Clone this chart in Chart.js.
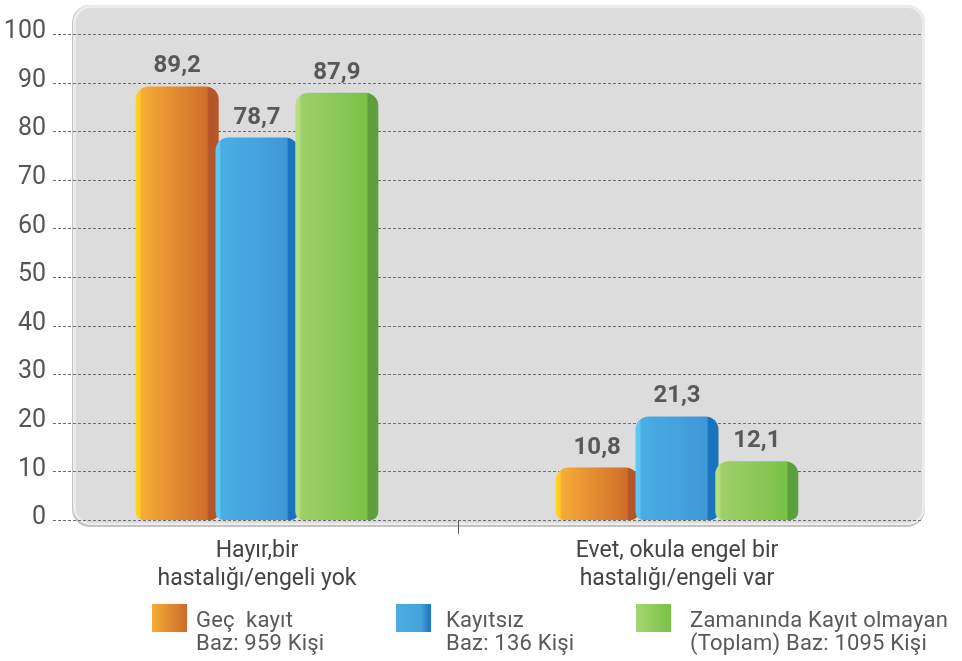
<!DOCTYPE html>
<html><head><meta charset="utf-8">
<script src="https://cdn.jsdelivr.net/npm/chart.js@4/dist/chart.umd.min.js"></script>
<style>
html,body{margin:0;padding:0;background:#fff;}
#wrap{position:relative;width:962px;height:661px;overflow:hidden;}
canvas{position:absolute;left:0;top:0;}
.sw{position:absolute;width:35px;height:28px;top:604px;}
.lt{position:absolute;top:608px;font-family:Roboto,"Liberation Sans",sans-serif;font-size:22px;line-height:23px;letter-spacing:0.2px;color:#595959;white-space:pre;}
</style></head><body>
<div id="wrap"><canvas id="c" width="962" height="661"></canvas>
<div class="sw" style="left:152px;background:linear-gradient(90deg,#f5ad32,#cc6a2c);"></div>
<div class="lt" id="l0" style="left:196px;"></div>
<div class="sw" style="left:396px;background:linear-gradient(90deg,#4aaee3 0%,#45a4dd 70%,#1c72bc 100%);"></div>
<div class="lt" id="l1" style="left:446px;"></div>
<div class="sw" style="left:636px;background:linear-gradient(90deg,#a6d672,#78c145);"></div>
<div class="lt" id="l2" style="left:690px;"></div>
</div>
<script>
const categories = [['Hayır,bir', 'hastalığı/engeli yok'], ['Evet, okula engel bir', 'hastalığı/engeli var']];
const seriesNames = ['Geç  kayıt', 'Kayıtsız', 'Zamanında Kayıt olmayan'];
const seriesBases = ['Baz: 959 Kişi', 'Baz: 136 Kişi', '(Toplam) Baz: 1095 Kişi'];
const gecKayit = [89.2, 10.8];
const kayitsiz = [78.7, 21.3];
const zamanindaKayitOlmayan = [87.9, 12.1];
const yTickValues = [0, 10, 20, 30, 40, 50, 60, 70, 80, 90, 100];

const FONT = 'Roboto, "Liberation Sans", sans-serif';

for (let i = 0; i < 3; i++) {
  document.getElementById('l' + i).textContent = seriesNames[i] + '\n' + seriesBases[i];
}

const gradStops = [
  [[0, '#ffd21f'], [0.05, '#ffcc22'], [0.07, '#f5ac38'], [0.86, '#d06d2b'], [0.88, '#b5552a'], [1, '#b5552a']],
  [[0, '#5fcbf5'], [0.05, '#5cc6f2'], [0.07, '#4aaee3'], [0.86, '#3f98d6'], [0.88, '#1a73bd'], [1, '#1a73bd']],
  [[0, '#b8df85'], [0.05, '#b3dc7e'], [0.07, '#9fd06a'], [0.86, '#7bc146'], [0.88, '#5ba03c'], [1, '#5ba03c']]
];

const panelPlugin = {
  id: 'panel',
  beforeDraw(chart) {
    const {ctx, chartArea: a} = chart;
    const l = a.left + 26, r = a.right + 38, t = 5, b = a.bottom + 5;
    ctx.save();
    ctx.beginPath();
    ctx.roundRect(l - 1, t, r - l + 1, b - t + 2, 18);
    ctx.fillStyle = '#c4c4c4';
    ctx.fill();
    ctx.beginPath();
    ctx.roundRect(l, t, r - l, b - t, 18);
    ctx.fillStyle = '#ececec';
    ctx.fill();
    ctx.beginPath();
    ctx.roundRect(l + 3, t + 3, r - l - 6, b - t - 5, 15);
    ctx.fillStyle = '#dcdcdc';
    ctx.fill();
    ctx.restore();
  },
  beforeDatasetsDraw(chart) {
    const {ctx, chartArea: a, scales} = chart;
    ctx.save();
    ctx.strokeStyle = '#6e6e6e';
    ctx.lineWidth = 1;
    ctx.setLineDash([3, 2]);
    yTickValues.forEach(v => {
      const y = Math.round(scales.y.getPixelForValue(v)) + 0.5;
      ctx.beginPath();
      ctx.moveTo(a.left + 6, y);
      ctx.lineTo(a.right + 35, y);
      ctx.stroke();
    });
    ctx.setLineDash([]);
    const mx = Math.round((scales.x.getPixelForValue(0) + scales.x.getPixelForValue(1)) / 2) - 8.5;
    ctx.strokeStyle = '#555';
    ctx.beginPath();
    ctx.moveTo(mx, a.bottom + 1);
    ctx.lineTo(mx, a.bottom + 14);
    ctx.stroke();
    ctx.restore();
    // draw datasets in forward order so later series overlap earlier ones
    for (let i = 0; i < chart.data.datasets.length; i++) {
      const meta = chart.getDatasetMeta(i);
      meta.data.forEach(el => {
        const g = ctx.createLinearGradient(el.x - el.width / 2, 0, el.x + el.width / 2, 0);
        gradStops[i].forEach(s => g.addColorStop(s[0], s[1]));
        el.options = Object.assign({}, el.options, {backgroundColor: g});
      });
      meta.controller.draw();
    }
    return false;
  },
  afterDraw(chart) {
    const {ctx} = chart;
    ctx.save();
    ctx.font = 'bold 24px ' + FONT;
    ctx.fillStyle = '#585858';
    ctx.textAlign = 'center';
    ctx.textBaseline = 'bottom';
    chart.data.datasets.forEach((ds, i) => {
      chart.getDatasetMeta(i).data.forEach((el, j) => {
        ctx.fillText(String(ds.data[j]).replace('.', ','), el.x, el.y - 8);
      });
    });
    ctx.restore();
  }
};

const rad = {topLeft: 13, topRight: 13, bottomLeft: 8, bottomRight: 8};
new Chart(document.getElementById('c'), {
  type: 'bar',
  data: {
    labels: categories,
    datasets: [
      {label: seriesNames[0], data: gecKayit, backgroundColor: '#e08a30'},
      {label: seriesNames[1], data: kayitsiz, backgroundColor: '#45a4dd'},
      {label: seriesNames[2], data: zamanindaKayitOlmayan, backgroundColor: '#8cc955'}
    ]
  },
  options: {
    responsive: false,
    animation: false,
    layout: {padding: {top: 34, right: 75, left: 0, bottom: 0}},
    datasets: {bar: {categoryPercentage: 0.57, barPercentage: 1.04, borderRadius: rad, borderSkipped: false, borderWidth: 0}},
    plugins: {legend: {display: false}, tooltip: {enabled: false}},
    scales: {
      x: {
        grid: {display: false},
        border: {display: false},
        ticks: {color: '#444', padding: 9, font: {family: FONT, size: 23, lineHeight: 1.22}},
        afterFit(s) { s.height = 141; }
      },
      y: {
        min: 0, max: 100,
        grid: {display: false, drawTicks: false},
        border: {display: false},
        ticks: {stepSize: 10, color: '#555', padding: 1, labelOffset: -2, font: {family: FONT, size: 25}},
        afterFit(s) { s.width = 47; }
      }
    }
  },
  plugins: [panelPlugin]
});
</script>
</body></html>
